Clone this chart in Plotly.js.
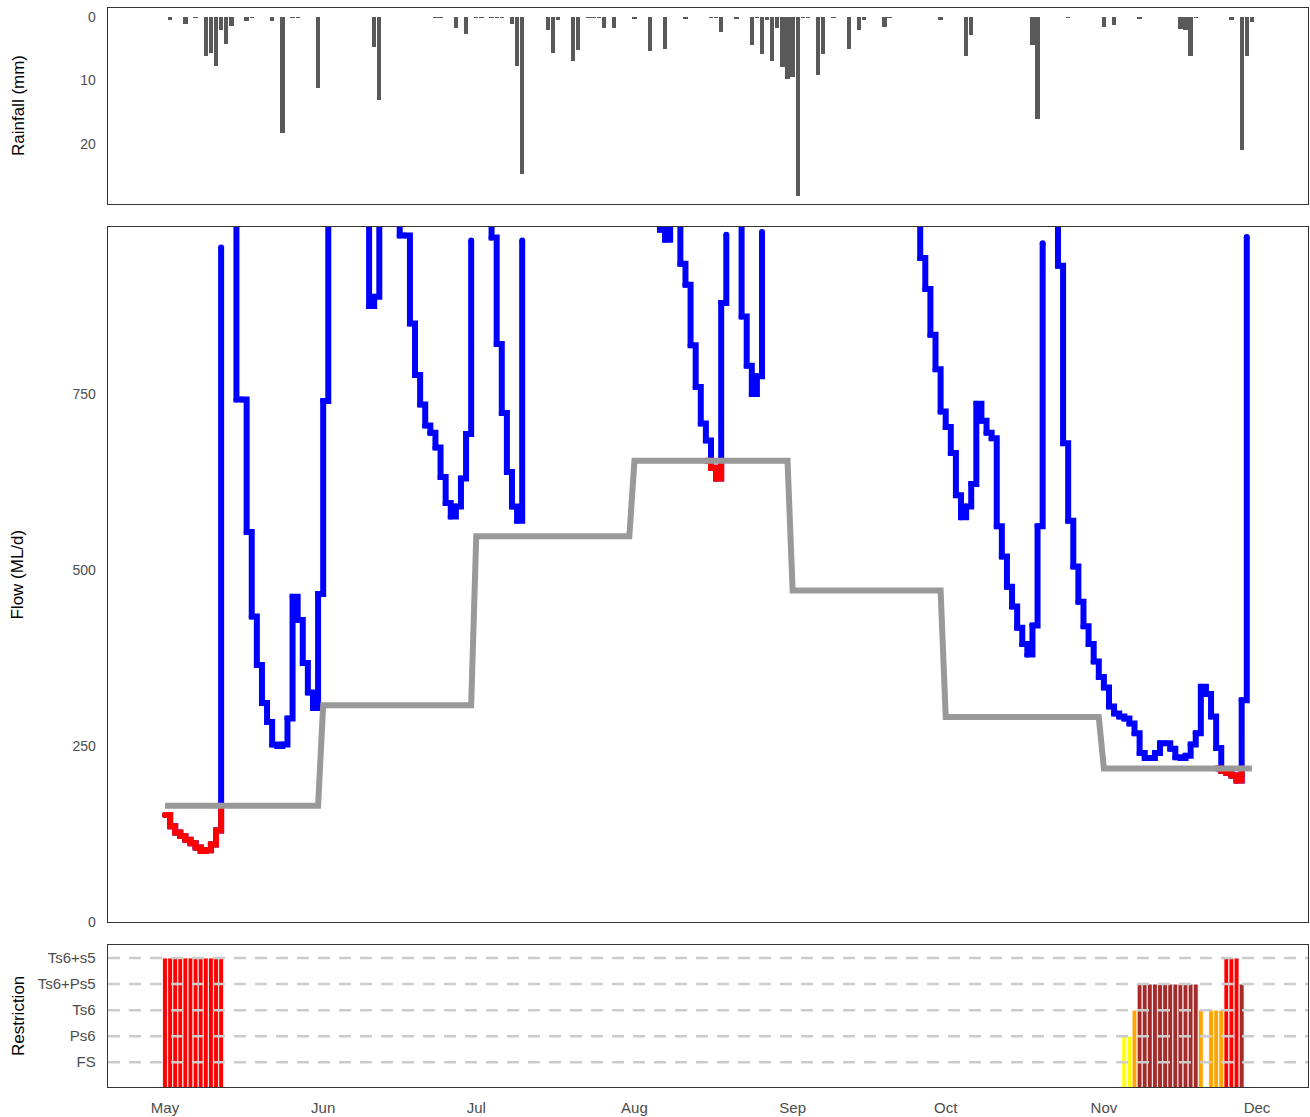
<!DOCTYPE html>
<html>
<head>
<meta charset="utf-8">
<script src="https://cdn.plot.ly/plotly-3.0.1.min.js"></script>
<style>
html,body{margin:0;padding:0;background:#fff;}
#chart{width:1310px;height:1117px;}
</style>
</head>
<body>
<div id="chart"></div>
<script>
// ---------------- DATA ----------------
const startYear = 2019, startMonth = 4, startDay = 1;   // 1 May
const monthTicks = ['2019-05-01','2019-06-01','2019-07-01','2019-08-01','2019-09-01','2019-10-01','2019-11-01','2019-12-01'];
const monthLabels = ['May','Jun','Jul','Aug','Sep','Oct','Nov','Dec'];

// monthly flow threshold (ML/d)
const thresholdMonths = ['2019-05','2019-06','2019-07','2019-08','2019-09','2019-10','2019-11'];
const thresholdValues = [165, 308, 548, 655, 471, 291, 218];

// daily flow (ML/d), 1 May .. 30 Nov; null = outside the plotted range (removed)
const flowMlPerDay = [
 152,136,127,122,117,112,106,101,102,110,
 130,958,null,1050,742,742,554,434,365,311,
 284,252,250,252,289,462,429,368,326,304,
 466,740,1050,null,null,null,null,null,null,1050,
 875,888,1050,null,null,1050,975,975,850,777,
 735,705,695,674,632,595,576,590,630,693,
 968,null,null,1050,972,821,723,639,590,570,
 968,null,null,null,null,null,null,null,null,null,
 null,null,null,null,null,null,null,null,null,null,
 null,null,null,null,null,null,1050,983,969,1050,
 1050,935,905,819,760,708,684,645,630,879,
 976,null,1050,860,790,750,775,980,null,null,
 null,null,null,null,null,null,null,null,null,null,
 null,null,null,null,null,null,null,null,null,null,
 null,null,null,null,null,null,null,1050,943,899,
 834,785,725,703,666,606,575,590,622,736,
 712,695,687,562,519,476,448,418,395,380,
 421,562,964,null,1050,932,680,570,505,455,
 420,395,370,348,333,306,296,292,289,282,
 268,240,233,233,240,254,254,246,234,233,
 236,252,268,334,324,292,247,215,212,208,
 201,315,973,null
];

// daily rainfall (mm), days with rain only
const rainDates = [
 '2019-05-02','2019-05-05','2019-05-07','2019-05-09','2019-05-10','2019-05-11','2019-05-12','2019-05-13','2019-05-14',
 '2019-05-17','2019-05-18','2019-05-22','2019-05-24','2019-05-26','2019-05-27','2019-05-31',
 '2019-06-11','2019-06-12','2019-06-23','2019-06-24','2019-06-27','2019-06-29',
 '2019-07-01','2019-07-02','2019-07-04','2019-07-05','2019-07-06','2019-07-08','2019-07-09','2019-07-10',
 '2019-07-15','2019-07-16','2019-07-17','2019-07-20','2019-07-21','2019-07-23','2019-07-24','2019-07-25',
 '2019-07-26','2019-07-28',
 '2019-08-01','2019-08-04','2019-08-07','2019-08-11','2019-08-16','2019-08-17','2019-08-18','2019-08-21',
 '2019-08-24','2019-08-25','2019-08-26','2019-08-27','2019-08-28','2019-08-29','2019-08-30','2019-08-31',
 '2019-09-01','2019-09-02','2019-09-03','2019-09-04','2019-09-06','2019-09-07','2019-09-09','2019-09-12',
 '2019-09-14','2019-09-15','2019-09-19','2019-09-20','2019-09-30',
 '2019-10-05','2019-10-06','2019-10-18','2019-10-19','2019-10-25',
 '2019-11-01','2019-11-03','2019-11-08','2019-11-16','2019-11-17','2019-11-18','2019-11-19',
 '2019-11-26','2019-11-28','2019-11-29','2019-11-30'
];
const rainMm = [
 0.4,1.1,0.2,6.2,5.7,7.7,2.0,4.2,1.4,
 0.7,0.2,0.6,18.3,0.2,0.2,11.2,
 4.7,13.1,0.2,0.2,1.8,2.7,
 0.2,0.2,0.2,0.2,0.2,1.1,7.7,24.7,
 2.0,5.7,0.4,6.9,5.2,0.2,0.2,0.2,
 1.8,1.8,
 0.3,5.4,5.1,0.3,0.2,0.2,2.3,0.3,
 4.4,0.2,5.8,0.5,6.9,1.8,7.8,9.7,
 9.4,28.2,0.2,0.2,9.2,5.9,0.2,5.1,
 2.0,0.5,1.6,0.2,0.4,
 6.2,2.8,4.4,16.0,0.2,
 1.6,1.2,0.3,1.9,2.0,6.2,0.2,
 0.5,21.0,6.2,0.8
];

// restriction level per day (1=FS, 2=Ps6, 3=Ts6, 4=Ts6+Ps5, 5=Ts6+s5)
const restrictionLabels = ['FS','Ps6','Ts6','Ts6+Ps5','Ts6+s5'];
const restrictionDates = [
 '2019-05-01','2019-05-02','2019-05-03','2019-05-04','2019-05-05','2019-05-06',
 '2019-05-07','2019-05-08','2019-05-09','2019-05-10','2019-05-11','2019-05-12',
 '2019-11-05','2019-11-06','2019-11-07',
 '2019-11-08','2019-11-09','2019-11-10','2019-11-11','2019-11-12','2019-11-13',
 '2019-11-14','2019-11-15','2019-11-16','2019-11-17','2019-11-18','2019-11-19',
 '2019-11-20','2019-11-22','2019-11-23','2019-11-24',
 '2019-11-25','2019-11-26','2019-11-27','2019-11-28'
];
const restrictionLevels = [
 5,5,5,5,5,5,5,5,5,5,5,5,
 2,2,3,
 4,4,4,4,4,4,4,4,4,4,4,4,
 3,3,3,3,
 5,5,5,4
];
const restrictionColours = {1:'#FFFFB0', 2:'#FFFF00', 3:'#FFA500', 4:'#A52A2A', 5:'#FF0000'};

// ---------------- BUILD ----------------
const DAY = 86400000;
const t0 = Date.UTC(startYear, startMonth, startDay);
const dates = flowMlPerDay.map((_, i) => new Date(t0 + i * DAY).toISOString().slice(0, 10));
const thr = dates.map(d => thresholdValues[thresholdMonths.indexOf(d.slice(0, 7))]);
const n = flowMlPerDay.length;
const below = i => i >= 0 && i < n && flowMlPerDay[i] != null && flowMlPerDay[i] < thr[i];
const redY = flowMlPerDay.map((v, i) => {
  if (v == null) return null;
  if (below(i) || below(i - 1) || below(i + 1)) return Math.min(v, thr[i]);
  return null;
});

const xRange = [new Date(t0 - 11.17 * DAY).toISOString(), new Date(t0 + 224.0 * DAY).toISOString()];
const FONT = 'Liberation Sans, Arial, sans-serif';
const TICKC = '#4d4d4d';

const traces = [
  { type: 'bar', x: rainDates, y: rainMm, xaxis: 'x', yaxis: 'y',
    width: 0.85 * DAY, marker: { color: '#595959', line: { width: 0 } }, hoverinfo: 'x+y' },
  { type: 'scatter', mode: 'lines+markers', x: dates, y: flowMlPerDay, xaxis: 'x2', yaxis: 'y2',
    line: { color: '#0000FF', width: 6, shape: 'hv' }, marker: { color: '#0000FF', size: 6 },
    connectgaps: false },
  { type: 'scatter', mode: 'lines+markers', x: dates, y: redY, xaxis: 'x2', yaxis: 'y2',
    line: { color: '#FF0000', width: 6, shape: 'hv' }, marker: { color: '#FF0000', size: 6 },
    connectgaps: false },
  { type: 'scatter', mode: 'lines', x: dates, y: thr, xaxis: 'x2', yaxis: 'y2',
    line: { color: '#999999', width: 6 } },
  { type: 'bar', x: restrictionDates, y: restrictionLevels, xaxis: 'x3', yaxis: 'y3',
    width: 0.95 * DAY,
    marker: { color: restrictionLevels.map(l => restrictionColours[l]), line: { color: '#ffffff', width: 0.8 } } }
];

const boxAxis = {
  showgrid: false, zeroline: false, showline: true, mirror: true,
  linecolor: '#333333', linewidth: 1.3
};
const xBase = Object.assign({}, boxAxis, { type: 'date', range: xRange, showticklabels: false, ticks: '' });

const shapes = [1, 2, 3, 4, 5].map(l => ({
  type: 'line', xref: 'x3 domain', yref: 'y3', x0: 0, x1: 1, y0: l, y1: l,
  line: { color: '#cccccc', width: 2.5, dash: '12px,9px' }, layer: 'above'
}));

const dTop = [0.8183, 1.0], dMid = [0.1529, 0.7970], dBot = [0.0, 0.1316];
const titleFont = { family: FONT, size: 17, color: '#000' };
const annotations = [
  { text: 'Rainfall (mm)', y: (dTop[0] + dTop[1]) / 2 },
  { text: 'Flow (ML/d)', y: (dMid[0] + dMid[1]) / 2 },
  { text: 'Restriction', y: (dBot[0] + dBot[1]) / 2 }
].map(a => ({
  text: a.text, xref: 'paper', yref: 'paper', x: -0.075, y: a.y,
  xanchor: 'center', yanchor: 'middle', textangle: -90, showarrow: false, font: titleFont
}));

const layout = {
  width: 1310, height: 1117,
  margin: { l: 108, r: 2, t: 8, b: 30 },
  paper_bgcolor: '#ffffff', plot_bgcolor: '#ffffff',
  showlegend: false, bargap: 0,
  font: { family: FONT, size: 14, color: TICKC },
  xaxis: Object.assign({}, xBase, { anchor: 'y' }),
  xaxis2: Object.assign({}, xBase, { anchor: 'y2' }),
  xaxis3: Object.assign({}, xBase, {
    anchor: 'y3', showticklabels: true, tickmode: 'array', tickvals: monthTicks, ticktext: monthLabels,
    ticks: 'outside', ticklen: 7, tickcolor: 'rgba(0,0,0,0)', tickfont: { family: FONT, size: 15, color: TICKC }
  }),
  yaxis: Object.assign({}, boxAxis, {
    domain: dTop, anchor: 'x', range: [29.45, -1.42], tickmode: 'array', tickvals: [0, 10, 20],
    ticks: 'outside', ticklen: 8, tickcolor: 'rgba(0,0,0,0)', tickfont: { family: FONT, size: 14, color: TICKC }
  }),
  yaxis2: Object.assign({}, boxAxis, {
    domain: dMid, anchor: 'x2', range: [0, 987], tickmode: 'array', tickvals: [0, 250, 500, 750],
    ticks: 'outside', ticklen: 8, tickcolor: 'rgba(0,0,0,0)', tickfont: { family: FONT, size: 14, color: TICKC }
  }),
  yaxis3: Object.assign({}, boxAxis, {
    domain: dBot, anchor: 'x3', range: [0.05, 5.5], tickmode: 'array', tickvals: [1, 2, 3, 4, 5],
    ticktext: restrictionLabels,
    ticks: 'outside', ticklen: 8, tickcolor: 'rgba(0,0,0,0)', tickfont: { family: FONT, size: 15, color: TICKC }
  }),
  shapes: shapes,
  annotations: annotations
};

Plotly.newPlot('chart', traces, layout, { displayModeBar: false, staticPlot: true });
</script>
</body>
</html>
